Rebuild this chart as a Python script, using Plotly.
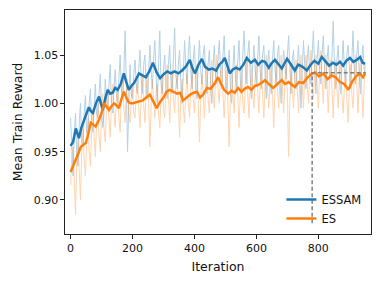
import plotly.graph_objects as go

# ---- data ----
raw_iter = list(range(0, 953, 4))

essam_raw = [
    0.985, 0.950, 0.925, 0.970, 0.990, 0.945, 0.935, 0.980, 1.000, 0.960,
    0.955, 0.990, 1.008, 0.970, 0.965, 1.000, 1.015, 0.980, 0.970, 0.995,
    1.020, 0.990, 0.985, 1.010, 1.030, 0.995, 0.975, 0.990, 1.025, 1.005,
    0.995, 1.020, 1.040, 1.000, 0.990, 1.015, 1.035, 1.010, 1.000, 1.025,
    1.050, 1.015, 1.005, 1.030, 1.075, 1.020, 0.950, 1.000, 1.040, 1.010,
    1.005, 1.030, 1.045, 1.020, 1.010, 1.035, 1.055, 1.025, 1.010, 1.040,
    1.050, 1.015, 1.005, 1.030, 1.060, 1.035, 1.015, 1.045, 1.065, 1.030,
    1.000, 1.040, 1.075, 1.020, 1.010, 1.035, 1.050, 1.015, 1.005, 1.040,
    1.060, 1.025, 1.010, 1.045, 1.078, 1.030, 1.015, 1.040, 1.055, 1.020,
    1.000, 1.030, 1.065, 1.040, 1.020, 1.050, 1.070, 1.035, 1.015, 1.045,
    1.060, 1.025, 1.005, 1.040, 1.065, 1.035, 1.020, 1.050, 1.060, 1.030,
    1.010, 1.040, 1.055, 1.025, 1.000, 1.035, 1.060, 1.030, 1.020, 1.045,
    1.065, 1.035, 1.015, 1.050, 1.070, 1.030, 1.010, 1.040, 1.055, 1.020,
    1.000, 1.035, 1.060, 1.030, 1.015, 1.045, 1.065, 1.025, 1.010, 1.050,
    1.075, 1.040, 1.020, 1.050, 1.065, 1.030, 1.005, 1.040, 1.060, 1.035,
    1.020, 1.045, 1.070, 1.035, 1.015, 1.050, 1.060, 1.030, 1.005, 1.040,
    1.055, 1.025, 1.010, 1.045, 1.065, 1.035, 1.020, 1.050, 1.060, 1.025,
    1.000, 1.035, 1.055, 1.040, 1.025, 1.050, 1.070, 1.035, 1.010, 1.045,
    1.055, 1.025, 1.015, 1.040, 1.060, 1.030, 0.995, 1.035, 1.065, 1.040,
    1.015, 1.045, 1.060, 1.030, 1.020, 1.050, 1.075, 1.040, 1.010, 1.045,
    1.065, 1.035, 1.020, 1.050, 1.070, 1.040, 1.015, 1.045, 1.060, 1.030,
    1.025, 1.050, 1.085, 1.040, 1.015, 1.045, 1.060, 1.030, 1.010, 1.040,
    1.065, 1.035, 1.020, 1.050, 1.060, 1.040, 1.015, 1.045, 1.075, 1.035,
    1.020, 1.050, 1.065, 1.030, 1.010, 1.045, 1.060, 1.035, 1.030]

es_raw = [
    0.915, 0.945, 0.955, 0.920, 0.885, 0.940, 0.965, 0.930, 0.900, 0.950,
    0.975, 0.940, 0.925, 0.960, 0.985, 0.950, 0.935, 0.970, 0.995, 0.965,
    0.945, 0.980, 1.000, 0.965, 0.950, 0.990, 1.010, 0.975, 0.960, 0.995,
    1.015, 0.985, 0.965, 1.000, 1.020, 0.990, 0.975, 1.005, 1.015, 0.985,
    0.970, 1.005, 1.030, 0.995, 0.980, 1.010, 1.025, 0.990, 0.980, 1.005,
    1.020, 0.990, 0.985, 1.010, 1.025, 0.995, 0.975, 1.005, 1.030, 1.000,
    0.980, 1.015, 1.030, 1.000, 0.955, 0.995, 1.025, 1.005, 0.985, 1.010,
    1.020, 0.990, 0.975, 1.005, 1.030, 0.995, 0.985, 1.015, 1.040, 1.010,
    0.980, 1.015, 1.035, 1.005, 0.990, 1.020, 1.030, 1.000, 0.965, 1.005,
    1.025, 0.995, 0.980, 1.010, 1.030, 1.000, 0.985, 1.015, 1.035, 1.005,
    0.990, 1.020, 1.040, 1.005, 0.960, 1.000, 1.030, 1.010, 0.985, 1.015,
    1.040, 1.005, 0.990, 1.020, 1.045, 1.010, 0.995, 1.025, 1.050, 1.015,
    1.000, 1.030, 1.040, 1.010, 0.985, 1.015, 1.035, 1.000, 0.955, 1.005,
    1.035, 1.010, 0.990, 1.020, 1.040, 1.005, 0.975, 1.010, 1.035, 1.000,
    0.990, 1.020, 1.045, 1.010, 0.985, 1.015, 1.040, 1.010, 0.995, 1.025,
    1.045, 1.015, 0.990, 1.020, 1.040, 1.010, 0.985, 1.020, 1.050, 1.015,
    0.995, 1.025, 1.040, 1.010, 0.975, 1.015, 1.045, 1.015, 0.995, 1.025,
    1.050, 1.015, 0.990, 1.020, 1.045, 1.010, 0.945, 1.005, 1.040, 1.015,
    0.995, 1.025, 1.045, 1.015, 0.990, 1.020, 1.050, 1.020, 0.995, 1.030,
    1.050, 1.020, 1.000, 1.030, 1.055, 1.025, 1.005, 1.035, 1.050, 1.020,
    0.995, 1.030, 1.055, 1.025, 1.000, 1.035, 1.050, 1.020, 0.990, 1.025,
    1.045, 1.015, 0.985, 1.020, 1.045, 1.015, 0.995, 1.025, 1.040, 1.010,
    0.990, 1.015, 1.035, 1.005, 0.980, 1.015, 1.040, 1.010, 0.995, 1.025,
    1.050, 1.020, 0.990, 1.025, 1.045, 1.015, 0.985, 1.020, 1.040]

essam_iter = [0, 8, 17, 27, 35, 43, 52, 59, 65, 72, 82, 92, 104, 112, 120, 128, 136, 144,
              152, 162, 172, 180, 188, 196, 205, 213, 221, 232, 243, 254, 266, 278, 289,
              300, 312, 324, 336, 348, 360, 372, 385, 394, 402, 413, 424, 434, 446, 458,
              470, 480, 490, 498, 506, 514, 524, 534, 546, 558, 569, 582, 595, 606, 618,
              628, 640, 650, 660, 672, 682, 690, 699, 710, 724, 735, 748, 763, 775, 787,
              800, 811, 822, 835, 847, 858, 870, 880, 890, 902, 913, 924, 935, 943, 951]
essam_smooth = [0.956, 0.960, 0.974, 0.964, 0.975, 0.983, 0.990, 0.996, 0.992, 0.990,
                1.000, 1.007, 0.993, 1.005, 1.014, 1.010, 1.011, 1.016, 1.014, 1.020,
                1.031, 1.022, 1.014, 1.018, 1.021, 1.026, 1.031, 1.029, 1.027, 1.033,
                1.042, 1.032, 1.026, 1.030, 1.033, 1.031, 1.033, 1.031, 1.034, 1.038,
                1.045, 1.036, 1.031, 1.040, 1.046, 1.038, 1.035, 1.036, 1.034, 1.040,
                1.043, 1.047, 1.038, 1.031, 1.035, 1.037, 1.035, 1.040, 1.047, 1.042,
                1.045, 1.040, 1.044, 1.043, 1.037, 1.042, 1.045, 1.040, 1.036, 1.041,
                1.046, 1.041, 1.034, 1.040, 1.038, 1.034, 1.040, 1.044, 1.041, 1.048,
                1.044, 1.039, 1.042, 1.040, 1.043, 1.039, 1.044, 1.047, 1.043, 1.045,
                1.048, 1.042, 1.041]

es_iter = [0, 8, 17, 25, 33, 41, 49, 57, 65, 73, 81, 92, 100, 108, 116, 124, 132, 140,
           148, 156, 164, 172, 180, 188, 198, 210, 222, 233, 244, 256, 267, 278, 288,
           300, 310, 320, 332, 344, 354, 363, 375, 386, 398, 408, 418, 428, 440, 452,
           464, 476, 486, 496, 509, 520, 530, 541, 552, 562, 573, 584, 595, 605, 616,
           628, 640, 654, 668, 682, 692, 704, 716, 724, 737, 751, 763, 776, 789, 802,
           816, 830, 842, 856, 870, 884, 897, 910, 922, 934, 944, 951]
es_smooth = [0.929, 0.935, 0.941, 0.948, 0.955, 0.957, 0.959, 0.968, 0.980, 0.978,
             0.976, 0.983, 0.990, 1.000, 0.996, 0.993, 0.997, 1.000, 0.998, 0.995,
             1.004, 1.012, 1.006, 1.001, 1.000, 1.001, 1.002, 1.003, 1.006, 1.009,
             1.002, 0.995, 1.001, 1.006, 1.012, 1.014, 1.012, 1.010, 1.011, 1.003,
             1.006, 1.009, 1.011, 1.012, 1.006, 1.009, 1.016, 1.015, 1.020, 1.027,
             1.020, 1.014, 1.010, 1.013, 1.011, 1.016, 1.012, 1.015, 1.017, 1.014,
             1.018, 1.019, 1.021, 1.024, 1.020, 1.016, 1.020, 1.024, 1.020, 1.022,
             1.019, 1.017, 1.022, 1.021, 1.026, 1.030, 1.032, 1.028, 1.031, 1.025,
             1.029, 1.027, 1.022, 1.020, 1.014, 1.023, 1.028, 1.031, 1.027, 1.031]

# reference marker (dashed gray)
marker_iter = [780, 780, 953]
marker_val = [0.876, 1.0317, 1.0317]

x_ticks = [0, 200, 400, 600, 800]
y_ticks = [0.90, 0.95, 1.00, 1.05]
y_tick_text = ["0.90", "0.95", "1.00", "1.05"]

BLUE = "#1f77b4"
ORANGE = "#ff7f0e"

fig = go.Figure()
fig.add_trace(go.Scatter(x=raw_iter, y=essam_raw, mode="lines",
                         line=dict(color=BLUE, width=1), opacity=0.33,
                         showlegend=False, hoverinfo="skip"))
fig.add_trace(go.Scatter(x=raw_iter, y=es_raw, mode="lines",
                         line=dict(color=ORANGE, width=1), opacity=0.33,
                         showlegend=False, hoverinfo="skip"))
fig.add_trace(go.Scatter(x=essam_iter, y=essam_smooth, mode="lines", name="ESSAM",
                         line=dict(color=BLUE, width=2.5)))
fig.add_trace(go.Scatter(x=es_iter, y=es_smooth, mode="lines", name="ES",
                         line=dict(color=ORANGE, width=2.5)))
fig.add_trace(go.Scatter(x=marker_iter, y=marker_val, mode="lines",
                         line=dict(color="#808080", width=1.5, dash="4px,2.5px"),
                         showlegend=False, hoverinfo="skip"))

axis_common = dict(showgrid=False, zeroline=False, showline=True, mirror=True,
                   linecolor="#222222", linewidth=1.2, ticks="outside", ticklen=3.5,
                   tickwidth=1, tickcolor="#222222", automargin=False,
                   tickfont=dict(size=11, color="#111111"))

fig.update_layout(
    width=381, height=284,
    margin=dict(l=65, r=10, t=10, b=50),
    paper_bgcolor="white", plot_bgcolor="white",
    font=dict(family="DejaVu Sans", size=11, color="#111111"),
    xaxis=dict(range=[-18, 970], tickvals=x_ticks,
               title=dict(text="Iteration", font=dict(size=12.5), standoff=8),
               **axis_common),
    yaxis=dict(range=[0.8648, 1.0966], tickvals=y_ticks, ticktext=y_tick_text,
               title=dict(text="Mean Train Reward", font=dict(size=12.5), standoff=8),
               **axis_common),
    legend=dict(x=0.985, y=0.005, xanchor="right", yanchor="bottom",
                bgcolor="rgba(0,0,0,0)", font=dict(size=11.5),
                tracegroupgap=0, itemwidth=30),
)

fig.write_html("out.html", config={"displayModeBar": False},
               post_script="document.body.style.margin='0';document.body.style.overflow='hidden';")
